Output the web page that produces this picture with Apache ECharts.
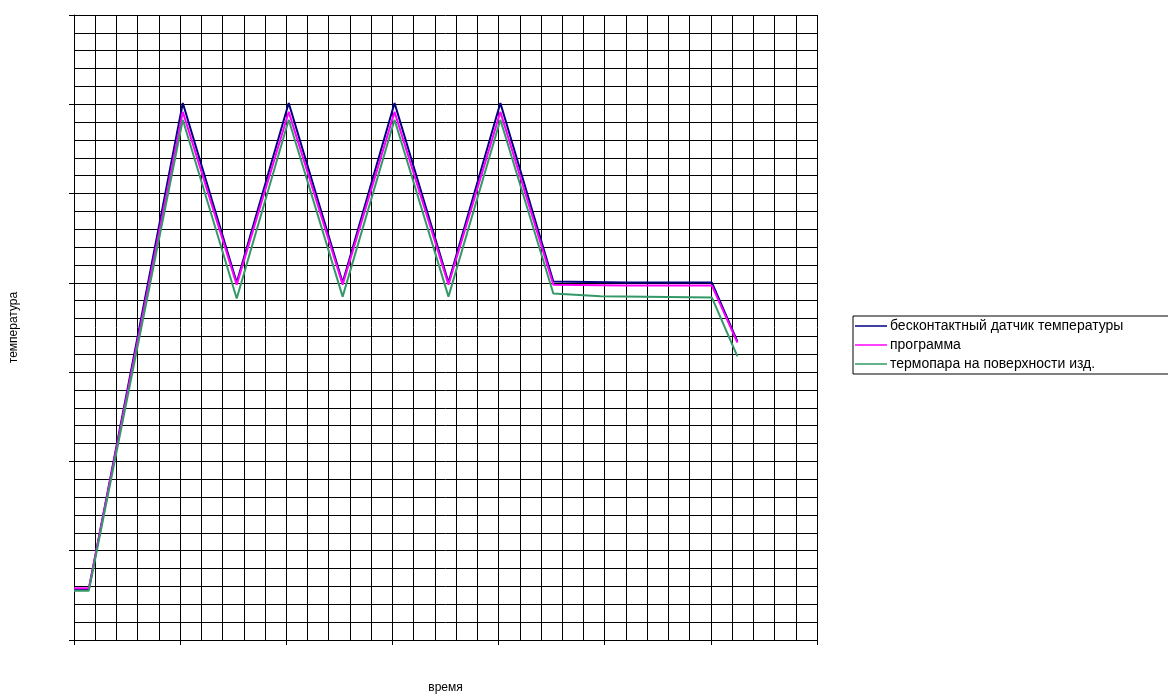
<!DOCTYPE html>
<html>
<head>
<meta charset="utf-8">
<script src="https://cdn.jsdelivr.net/npm/echarts@6/dist/echarts.min.js"></script>
<style>
html,body{margin:0;padding:0;background:#fff;overflow:hidden;}
#chart{width:1168px;height:699px;}
</style>
</head>
<body>
<div id="chart"></div>
<script>
// time (arbitrary units, axis 0..70) and temperature (arbitrary units, axis 0..700)
const sensorX = [0, 1.4, 10.25, 15.33, 20.23, 25.31, 30.2, 35.28, 40.17, 45.16, 52, 60.1, 62.5];
const sensorY = [57, 57, 601.5, 400.3, 601.5, 400.3, 601.5, 400.3, 601.5, 401.4, 400.5, 400.3, 334.3];

const programX = [0, 1.4, 10.25, 15.33, 20.23, 25.31, 30.2, 35.28, 40.17, 45.16, 52, 60.1, 62.5];
const programY = [58, 58, 591.5, 398, 591.5, 398, 591.5, 398, 591.5, 398, 397, 397, 333];

const thermoX = [0, 1.4, 10.25, 15.33, 20.23, 25.31, 30.2, 35.28, 40.17, 45.16, 49.6, 60.1, 62.5];
const thermoY = [55.3, 55.3, 582.6, 382.4, 582.6, 384.6, 582.6, 384.6, 582.6, 388, 385, 383.5, 317.6];

const seriesNames = ['бесконтактный датчик температуры', 'программа', 'термопара на поверхности изд.'];
const seriesColors = ['#000080', '#FF00FF', '#339966'];

function pairs(xs, ys){ return xs.map((x,i)=>[x, ys[i]]); }

const chart = echarts.init(document.getElementById('chart'), null, {renderer:'canvas'});
const font = 'Liberation Sans, Arial, sans-serif';
const gridLine = {show:true, lineStyle:{color:'#000', width:1}};
chart.setOption({
  animation:false,
  backgroundColor:'#fff',
  textStyle:{fontFamily:font},
  grid:{left:71, right:351, top:15, bottom:51, containLabel:false},
  legend:{
    orient:'vertical', left:853, top:316,
    data: seriesNames.map(n=>({name:n, icon:'rect'})),
    itemWidth:32, itemHeight:1.5, itemGap:5,
    borderColor:'#000', borderWidth:1, padding:[3,80,3,2],
    textStyle:{fontFamily:font, fontSize:14, color:'#000', padding:[0,0,0,-2]}
  },
  xAxis:{
    type:'value', min:0, max:70, interval:10,
    name:'время', nameLocation:'middle', nameGap:42,
    nameTextStyle:{fontFamily:font, fontSize:12, color:'#000'},
    axisLine:{show:true, lineStyle:{color:'#000', width:1}},
    axisTick:{show:true, inside:false, length:5, lineStyle:{color:'#000'}},
    axisLabel:{show:false},
    splitLine:gridLine,
    minorTick:{show:false, splitNumber:5},
    minorSplitLine:gridLine
  },
  yAxis:{
    type:'value', min:0, max:700, interval:100,
    name:'температура', nameLocation:'middle', nameGap:54, nameRotate:90,
    nameTextStyle:{fontFamily:font, fontSize:12, color:'#000'},
    axisLine:{show:true, lineStyle:{color:'#000', width:1}},
    axisTick:{show:true, inside:false, length:5, lineStyle:{color:'#000'}},
    axisLabel:{show:false},
    splitLine:gridLine,
    minorTick:{show:false, splitNumber:5},
    minorSplitLine:gridLine
  },
  series:[
    {name:seriesNames[0], type:'line', data:pairs(sensorX, sensorY), showSymbol:false, color:seriesColors[0], lineStyle:{width:2, color:seriesColors[0]}, z:2},
    {name:seriesNames[1], type:'line', data:pairs(programX, programY), showSymbol:false, color:seriesColors[1], lineStyle:{width:2, color:seriesColors[1]}, z:3},
    {name:seriesNames[2], type:'line', data:pairs(thermoX, thermoY), showSymbol:false, color:seriesColors[2], lineStyle:{width:2, color:seriesColors[2]}, z:4}
  ]
});
</script>
</body>
</html>
